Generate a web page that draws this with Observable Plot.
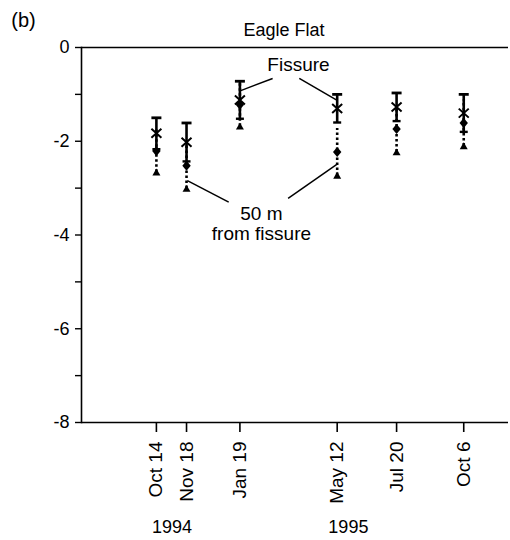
<!DOCTYPE html>
<html>
<head>
<meta charset="utf-8">
<script src="https://cdn.jsdelivr.net/npm/d3@7"></script>
<script src="https://cdn.jsdelivr.net/npm/@observablehq/plot@0.6"></script>
<style>
  body { margin: 0; background: #fff; }
  #chart { width: 510px; height: 540px; }
</style>
</head>
<body>
<div id="chart"></div>
<script>
// Sampling dates and their axis labels
const sampleDates = ["1994-10-14", "1994-11-18", "1995-01-19", "1995-05-12", "1995-07-20", "1995-10-06"];
const dateLabels = ["Oct 14", "Nov 18", "Jan 19", "May 12", "Jul 20", "Oct 6"];

// Fissure series: mean with lower/upper bar ends
const fissureMean = [-1.83, -2.02, -1.12, -1.30, -1.27, -1.40];
const fissureLow  = [-2.17, -2.43, -1.52, -1.60, -1.57, -1.80];
const fissureHigh = [-1.50, -1.61, -0.72, -1.00, -0.97, -1.00];

// 50 m from fissure series: mean with lower/upper bar ends
const fiftyMean = [-2.21, -2.52, -1.22, -2.23, -1.74, -1.61];
const fiftyLow  = [-2.66, -3.01, -1.68, -2.73, -2.23, -2.10];
const fiftyHigh = [-1.76, -2.03, -0.76, -1.73, -1.25, -1.12];

// Axis ticks
const yTicks = [0, -1, -2, -3, -4, -5, -6, -7, -8];
const yearLabels = ["1994", "1995"];
const yearDates = ["1994-11-01", "1995-05-25"];

// Callout labels and their leader lines (data coordinates)
const calloutLabels = ["Fissure", "50 m\nfrom fissure"];
const calloutDates = ["1995-03-28", "1995-02-13"];
const calloutValues = [-0.37, -3.75];
const leaderFromDate  = ["1995-01-20", "1995-03-29", "1994-11-19", "1995-03-16"];
const leaderFromValue = [-0.92, -0.66, -2.84, -3.22];
const leaderToDate    = ["1995-02-26", "1995-05-12", "1995-01-06", "1995-05-12"];
const leaderToValue   = [-0.66, -1.13, -3.30, -2.49];

const parse = d3.utcParse("%Y-%m-%d");
const dates = sampleDates.map(parse);

const rows = dates.map((date, i) => ({
  date,
  fm: fissureMean[i], fl: fissureLow[i], fh: fissureHigh[i],
  qm: fiftyMean[i], ql: fiftyLow[i], qh: fiftyHigh[i]
}));
const callouts = calloutLabels.map((text, i) => ({ text, date: parse(calloutDates[i]), v: calloutValues[i] }));
const leaders = leaderFromDate.map((d, i) => ({
  x1: parse(d), y1: leaderFromValue[i], x2: parse(leaderToDate[i]), y2: leaderToValue[i]
}));
const years = yearLabels.map((text, i) => ({ text, date: parse(yearDates[i]) }));

// Marker shapes
const unit = (size) => Math.sqrt(size / Math.PI);
const capSymbol = { draw(ctx, size) { const r = unit(size); ctx.moveTo(-r, 0); ctx.lineTo(r, 0); } };
const crossSymbol = { draw(ctx, size) { const r = unit(size); ctx.moveTo(-r, -r * 0.9); ctx.lineTo(r, r * 0.9); ctx.moveTo(-r, r * 0.9); ctx.lineTo(r, -r * 0.9); } };
const diamondSymbol = { draw(ctx, size) { const r = unit(size); ctx.moveTo(0, -r * 1.2); ctx.lineTo(r, 0); ctx.lineTo(0, r * 1.2); ctx.lineTo(-r, 0); ctx.closePath(); } };
const triangleSymbol = { draw(ctx, size) { const r = unit(size); ctx.moveTo(0, -r * 0.9); ctx.lineTo(r, r * 0.8); ctx.lineTo(-r, r * 0.8); ctx.closePath(); } };

const font = "'Liberation Sans', Arial, Helvetica, sans-serif";

const chart = Plot.plot({
  width: 510,
  height: 540,
  marginLeft: 81,
  marginRight: 2,
  marginTop: 47,
  marginBottom: 118,
  style: { fontFamily: font, background: "#fff", color: "#000", overflow: "visible" },
  x: { type: "utc", domain: [parse("1994-07-19"), parse("1995-11-27")], label: null },
  y: { domain: [-8, 0], label: null },
  marks: [
    Plot.ruleY([0, -8], { stroke: "#000", strokeWidth: 1.6 }),
    Plot.frame({ anchor: "left", stroke: "#000", strokeWidth: 1.6 }),
    Plot.axisY({
      ticks: yTicks,
      tickFormat: (d) => (d % 2 === 0 ? String(d) : ""),
      tickSize: 6, tickPadding: 6, fontSize: 18, strokeWidth: 1.4, label: null
    }),
    Plot.axisX({
      ticks: dates,
      tickFormat: (d) => dateLabels[dates.findIndex((t) => +t === +d)],
      tickSize: 10, tickPadding: 9, tickRotate: -90, fontSize: 19, strokeWidth: 1.6, label: null
    }),
    Plot.text(years, { x: "date", frameAnchor: "bottom", lineAnchor: "middle", dy: 105, text: "text", fontSize: 18 }),
    Plot.text(["(b)"], { frameAnchor: "top-left", lineAnchor: "middle", dx: -58, dy: -27, text: (d) => d, fontSize: 20, textAnchor: "middle" }),
    Plot.text(["Eagle Flat"], { frameAnchor: "top", lineAnchor: "middle", dx: -11, dy: -17, text: (d) => d, fontSize: 18 }),

    // 50 m from fissure: dotted bars
    Plot.ruleX(rows, { x: "date", y1: "ql", y2: "qh", stroke: "#000", strokeWidth: 2.6, strokeDasharray: "2.5,2.5" }),
    Plot.dot(rows, { x: "date", y: "ql", symbol: triangleSymbol, r: 4, fill: "#000", stroke: "none" }),

    // Fissure: solid bars with caps
    Plot.ruleX(rows, { x: "date", y1: "fl", y2: "fh", stroke: "#000", strokeWidth: 2.6 }),
    Plot.dot(rows, { x: "date", y: "fh", symbol: capSymbol, r: 5, stroke: "#000", strokeWidth: 2.8, fill: "none" }),
    Plot.dot(rows, { x: "date", y: "fl", symbol: capSymbol, r: 4, stroke: "#000", strokeWidth: 2.4, fill: "none" }),

    // Means
    Plot.dot(rows, { x: "date", y: "qm", symbol: diamondSymbol, r: 4.2, fill: "#000", stroke: "none" }),
    Plot.dot(rows, { x: "date", y: "fm", symbol: crossSymbol, r: 5, stroke: "#000", strokeWidth: 2, fill: "none" }),

    // Callouts
    Plot.link(leaders, { x1: "x1", y1: "y1", x2: "x2", y2: "y2", stroke: "#000", strokeWidth: 1.5 }),
    Plot.text(callouts, { x: "date", y: "v", text: "text", fontSize: 19, lineHeight: 1.05, fill: "#000" })
  ]
});

document.getElementById("chart").append(chart);
</script>
</body>
</html>
